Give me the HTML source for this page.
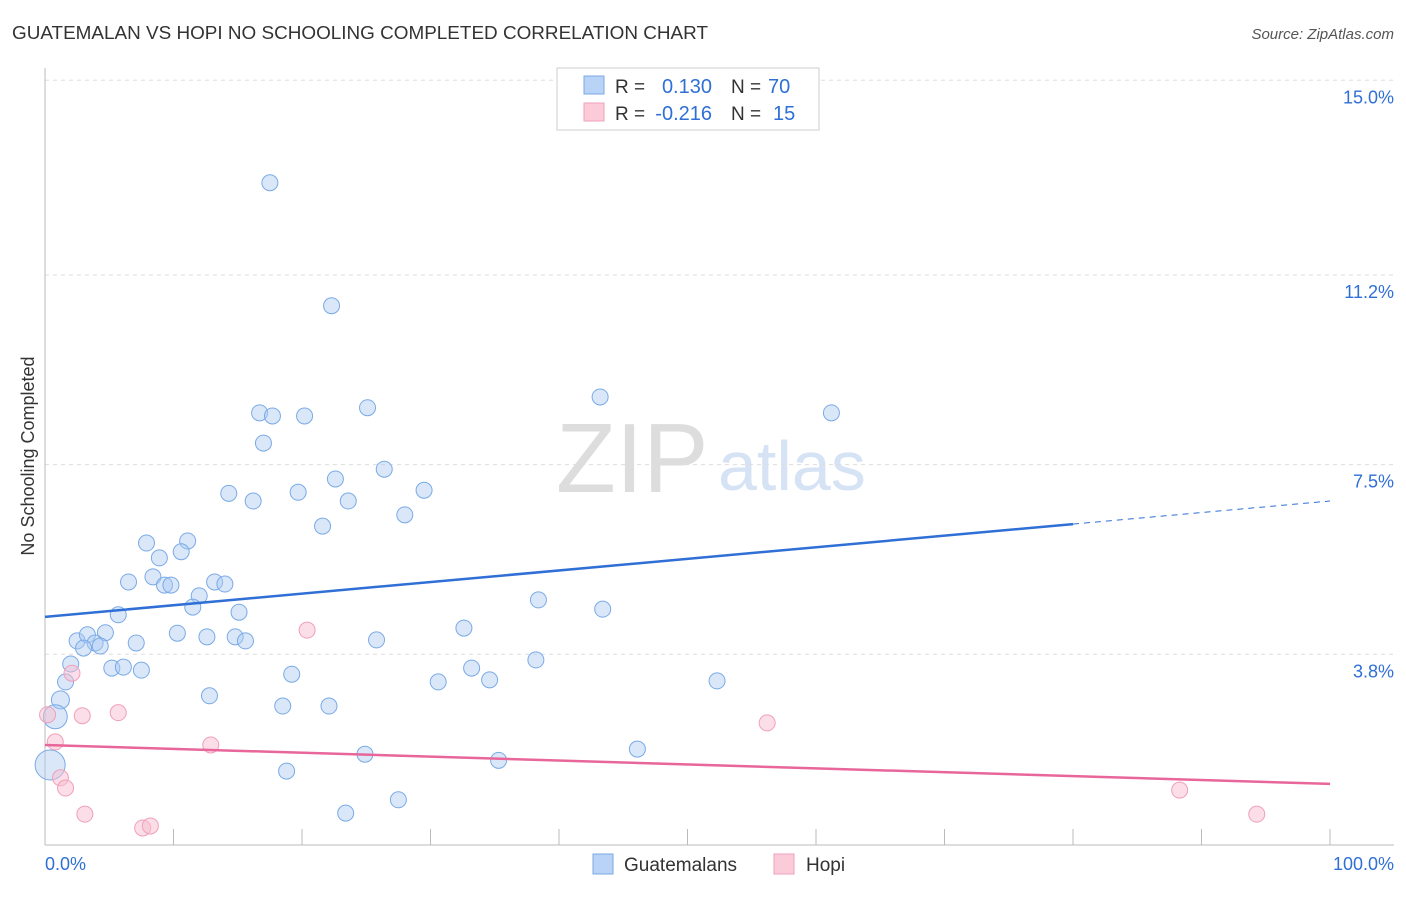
<!DOCTYPE html>
<html><head><meta charset="utf-8"><style>
body{margin:0;background:#fff;font-family:"Liberation Sans",sans-serif;}
svg text{font-family:"Liberation Sans",sans-serif;}
</style></head><body>
<svg id="c" width="1406" height="892">
<text x="12" y="39" font-size="18" fill="#333" textLength="696" lengthAdjust="spacingAndGlyphs">GUATEMALAN VS HOPI NO SCHOOLING COMPLETED CORRELATION CHART</text>
<text x="1394" y="39" font-size="15" fill="#555" text-anchor="end" font-style="italic">Source: ZipAtlas.com</text>
<text x="556" y="492" font-size="98" fill="#ddd" font-family="Liberation Serif">ZIP</text>
<text x="718" y="490" font-size="70" fill="#d6e3f5">atlas</text>
<text transform="translate(34,456) rotate(-90)" font-size="18" fill="#333" text-anchor="middle">No Schooling Completed</text>
<g id="grid"></g><g id="marks"></g>
<g>
<rect x="557" y="68" width="262" height="62" fill="#fff" stroke="#ccc"/>
<rect x="584" y="76" width="20" height="18" fill="#b8d3f5" stroke="#7aaae6"/>
<rect x="584" y="103" width="20" height="18" fill="#fbcbd9" stroke="#f0a0ba"/>
<text x="615" y="93" font-size="19" fill="#333">R =</text>
<text x="712" y="93" font-size="20" fill="#2f6fd6" text-anchor="end">0.130</text>
<text x="731" y="93" font-size="19" fill="#333">N =</text>
<text x="768" y="93" font-size="20" fill="#2f6fd6">70</text>
<text x="615" y="120" font-size="19" fill="#333">R =</text>
<text x="712" y="120" font-size="20" fill="#2f6fd6" text-anchor="end">-0.216</text>
<text x="731" y="120" font-size="19" fill="#333">N =</text>
<text x="773" y="120" font-size="20" fill="#2f6fd6">15</text>
</g>
<g>
<rect x="593" y="854" width="20" height="20" fill="#b8d3f5" stroke="#7aaae6"/>
<text x="624" y="871" font-size="19" fill="#333">Guatemalans</text>
<rect x="774" y="854" width="20" height="20" fill="#fbcbd9" stroke="#f0a0ba"/>
<text x="806" y="871" font-size="19" fill="#333">Hopi</text>
</g>
<text x="45" y="870" font-size="18" fill="#2f6fd6">0.0%</text>
<text x="1394" y="870" font-size="18" fill="#2f6fd6" text-anchor="end">100.0%</text>
</svg>
<script>
const yTicks=[15.0,11.2,7.5,3.8];
const yTickLabels=["15.0%","11.2%","7.5%","3.8%"];
const blueX=[17.5,22.3,43.2,61.2,25.1,16.7,17.7,20.2,17.0,26.4,22.6,14.3,19.7,29.5,16.2,23.6,28.0,21.6,7.9,11.1,10.6,8.9,8.4,6.5,9.3,9.8,13.2,14.0,12.0,11.5,38.4,43.4,5.7,15.1,32.6,10.3,12.6,14.8,15.6,25.8,7.1,2.5,3.3,4.7,3.9,3.0,4.3,2.0,5.2,6.1,7.5,19.2,33.2,38.2,1.6,52.3,30.6,34.6,12.8,1.2,18.5,22.1,0.8,46.1,24.9,35.3,18.8,0.4,27.5,23.4];
const blueY=[13.0,10.6,8.82,8.51,8.61,8.51,8.45,8.45,7.92,7.41,7.22,6.94,6.96,7.0,6.79,6.79,6.52,6.30,5.97,6.01,5.80,5.68,5.31,5.21,5.15,5.15,5.21,5.17,4.94,4.72,4.86,4.68,4.57,4.62,4.31,4.21,4.14,4.14,4.06,4.08,4.02,4.06,4.18,4.22,4.02,3.92,3.96,3.61,3.53,3.55,3.49,3.41,3.53,3.69,3.26,3.28,3.26,3.30,2.99,2.91,2.79,2.79,2.58,1.95,1.85,1.73,1.52,1.64,0.96,0.70];
const blueR=[8,8,8,8,8,8,8,8,8,8,8,8,8,8,8,8,8,8,8,8,8,8,8,8,8,8,8,8,8,8,8,8,8,8,8,8,8,8,8,8,8,8,8,8,8,8,8,8,8,8,8,8,8,8,8,8,8,8,8,9,8,8,12,8,8,8,8,15,8,8];
const pinkX=[2.1,20.4,2.9,5.7,0.2,0.8,12.9,56.2,1.2,1.6,3.1,7.6,8.2,88.3,94.3];
const pinkY=[3.43,4.27,2.60,2.66,2.62,2.09,2.03,2.46,1.39,1.19,0.68,0.41,0.45,1.15,0.68];
const blueTrend=[4.53,6.34,6.79];
const pinkTrend=[2.03,1.27];
const X=v=>45+v*12.85, Y=v=>849-v*51.25;
const NS="http://www.w3.org/2000/svg";
const grid=document.getElementById('grid'), marks=document.getElementById('marks');
function mk(p,tag,a){const e=document.createElementNS(NS,tag);for(const k in a)e.setAttribute(k,a[k]);p.appendChild(e);return e;}
yTicks.forEach((t,i)=>{
 const l=mk(grid,'line',{x1:45,x2:1394,y1:Y(t),y2:Y(t),stroke:'#ddd','stroke-dasharray':'4,4'});
 
 
 const tx=mk(grid,'text',{x:1394,y:Y(t)+23,'font-size':18,fill:'#2f6fd6','text-anchor':'end'});
 tx.textContent=yTickLabels[i];
 
 
});
mk(grid,'line',{x1:45,x2:45,y1:68,y2:845,stroke:'#bbb'});
mk(grid,'line',{x1:45,x2:1394,y1:845,y2:845,stroke:'#bbb'});
for(let i=1;i<=10;i++){const t=mk(grid,'line',{x1:X(i*10),x2:X(i*10),y1:829,y2:845,stroke:'#bbb'});
 
 }
blueX.forEach((x,i)=>{const c=mk(marks,'circle',{cx:X(x),cy:Y(blueY[i]),r:blueR[i],fill:'rgba(170,202,242,0.45)',stroke:'#7aaae6','stroke-width':1});
 
 });
pinkX.forEach((x,i)=>{const c=mk(marks,'circle',{cx:X(x),cy:Y(pinkY[i]),r:8,fill:'rgba(248,190,208,0.5)',stroke:'#f0a0ba','stroke-width':1});
 
 });
const b1=mk(marks,'line',{x1:X(0),y1:Y(blueTrend[0]),x2:X(80),y2:Y(blueTrend[1]),stroke:'#2f6fd6','stroke-width':2.5});


const b2=mk(marks,'line',{x1:X(80),y1:Y(blueTrend[1]),x2:X(100),y2:Y(blueTrend[2]),stroke:'#2f6fd6','stroke-width':1,'stroke-dasharray':'6,5'});


const p1=mk(marks,'line',{x1:X(0),y1:Y(pinkTrend[0]),x2:X(100),y2:Y(pinkTrend[1]),stroke:'#e8669a','stroke-width':2.5});


</script>
</body></html>
